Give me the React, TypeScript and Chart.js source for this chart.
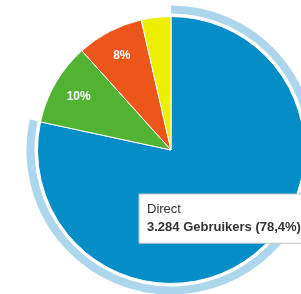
import { useEffect, useRef } from 'react';
import { Chart, registerables, Tooltip } from 'chart.js';

Chart.register(...registerables);

// ---- data ----
const categories = ['Direct', 'Organic Search', 'Referral', 'Social'];
const users = [3284, 418, 338, 150];
const sliceColors = ['#058DC7', '#50B432', '#ED561B', '#EDEF00'];
const unitLabel = 'Gebruikers';
const activeIndex = 0;
const hoverPointer = { x: 139, y: 194 };

const ringColor = '#acd6ec';
const FONT = '"Liberation Sans", Arial, Helvetica, sans-serif';

const fmtInt = (n: number) => String(Math.round(n)).replace(/\B(?=(\d{3})+(?!\d))/g, '.');
const fmtPct = (p: number) => p.toFixed(1).replace('.', ',');

(Tooltip.positioners as any).pointer = function (_items: any, eventPosition: any) {
  if (!eventPosition) return false;
  return { x: eventPosition.x, y: eventPosition.y };
};

const sliceLabels = {
  id: 'sliceLabels',
  afterDatasetsDraw(chart: any) {
    const dsIndex = chart.data.datasets.length - 1;
    const meta = chart.getDatasetMeta(dsIndex);
    const data: number[] = chart.data.datasets[dsIndex].data;
    const total = data.reduce((a, b) => a + b, 0);
    const ctx = chart.ctx;
    ctx.save();
    ctx.fillStyle = '#ffffff';
    ctx.font = `bold 12px ${FONT}`;
    ctx.textAlign = 'center';
    ctx.textBaseline = 'middle';
    meta.data.forEach((arc: any, i: number) => {
      if (i === activeIndex) return;
      const pct = (data[i] / total) * 100;
      if (pct < 5) return;
      const { startAngle, endAngle, outerRadius, x, y } = arc.getProps(['startAngle', 'endAngle', 'outerRadius', 'x', 'y'], true);
      const mid = (startAngle + endAngle) / 2;
      const r = outerRadius * 0.8;
      ctx.fillText(`${Math.round(pct)}%`, x + Math.cos(mid) * r, y + Math.sin(mid) * r);
    });
    ctx.restore();
  },
};

export default function App() {
  const ref = useRef<HTMLCanvasElement | null>(null);
  useEffect(() => {
    if (!ref.current) return;
    const transparent = 'rgba(0,0,0,0)';
    const chart = new Chart(ref.current, {
      type: 'pie',
      data: {
        labels: categories,
        datasets: [
          {
            data: users,
            backgroundColor: users.map((_, i) => (i === activeIndex ? ringColor : transparent)),
            borderColor: transparent,
            borderWidth: 1,
            hoverBorderWidth: 1,
            hoverOffset: 0,
            weight: 8,
          },
          {
            data: users,
            backgroundColor: transparent,
            borderColor: transparent,
            borderWidth: 1,
            hoverBorderWidth: 1,
            hoverOffset: 0,
            weight: 3,
          },
          {
            data: users,
            backgroundColor: sliceColors,
            borderColor: '#ffffff',
            borderWidth: 1,
            hoverBorderWidth: 1,
            hoverOffset: 0,
            weight: 133,
          },
        ],
      } as any,
      options: {
        responsive: false,
        animation: false,
        events: [],
        layout: { padding: 5 },
        plugins: {
          legend: { display: false },
          tooltip: {
            enabled: true,
            position: 'pointer' as any,
            xAlign: 'left',
            yAlign: 'top',
            caretSize: 0,
            caretPadding: 0,
            backgroundColor: '#ffffff',
            borderColor: '#c4c4c4',
            borderWidth: 1,
            cornerRadius: 0,
            titleColor: '#333333',
            bodyColor: '#333333',
            titleFont: { family: FONT, size: 13, weight: 'normal' },
            bodyFont: { family: FONT, size: 13, weight: 'bold' },
            padding: { top: 8, right: 8, bottom: 8, left: 8 },
            titleMarginBottom: 2,
            displayColors: false,
            callbacks: {
              title: (items: any[]) => items[0].label,
              label: (c: any) => {
                const d: number[] = c.dataset.data;
                const total = d.reduce((a, b) => a + b, 0);
                return `${fmtInt(c.raw)} ${unitLabel} (${fmtPct((c.raw / total) * 100)}%)`;
              },
            },
          },
        },
      } as any,
      plugins: [sliceLabels],
    });
    chart.tooltip!.setActiveElements([{ datasetIndex: 2, index: activeIndex }], hoverPointer);
    chart.update();
    return () => chart.destroy();
  }, []);
  return (
    <div style={{ position: 'fixed', left: 0, top: 0, width: 301, height: 294, overflow: 'hidden', background: '#fff' }}>
      <canvas ref={ref} width={342} height={300} style={{ display: 'block' }} />
    </div>
  );
}
